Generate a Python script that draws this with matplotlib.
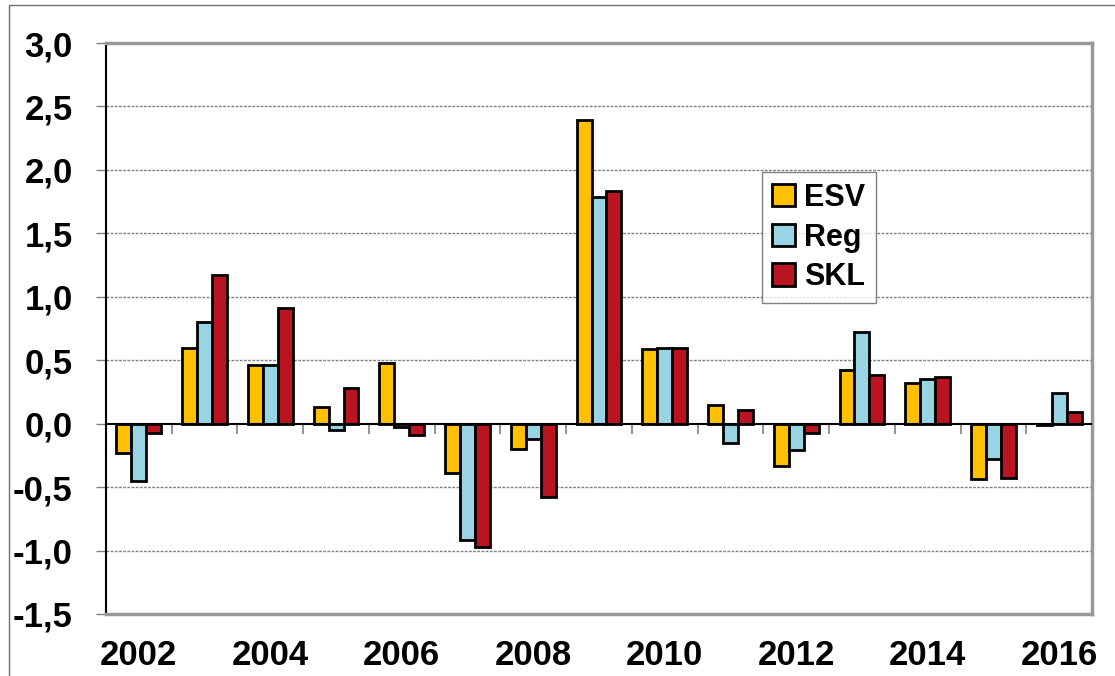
import numpy as np
import matplotlib.pyplot as plt
from matplotlib.patches import Rectangle

plt.rcParams['font.family'] = ['Liberation Sans', 'DejaVu Sans']
plt.rcParams['font.weight'] = 'bold'

# Data
years = list(range(2002, 2017))
esv = [-0.23, 0.60, 0.46, 0.13, 0.48, -0.39, -0.20, 2.39, 0.59, 0.15, -0.33, 0.42, 0.32, -0.44, -0.01]
reg = [-0.45, 0.80, 0.46, -0.05, -0.03, -0.92, -0.12, 1.79, 0.60, -0.15, -0.21, 0.72, 0.35, -0.28, 0.24]
skl = [-0.07, 1.17, 0.91, 0.28, -0.09, -0.97, -0.58, 1.83, 0.60, 0.11, -0.07, 0.38, 0.37, -0.43, 0.09]
y_ticks = [-1.5, -1.0, -0.5, 0.0, 0.5, 1.0, 1.5, 2.0, 2.5, 3.0]

colors = {'ESV': '#FFC000', 'Reg': '#99D4E4', 'SKL': '#BA1420'}

fig = plt.figure(figsize=(11.15, 6.76), dpi=100)
ax = fig.add_axes([106 / 1115, 62 / 676, 986 / 1115, 571 / 676])

# outer chart border
fig.patches.append(Rectangle((9 / 1115, -0.1), 1.2, 1 - 5 / 676 + 0.1,
                             transform=fig.transFigure, fill=False,
                             edgecolor='#707070', linewidth=1))

x = np.arange(len(years))
w = 0.227
for off, vals, name in [(-w, esv, 'ESV'), (0, reg, 'Reg'), (w, skl, 'SKL')]:
    ax.bar(x + off, vals, width=w, color=colors[name], edgecolor='black',
           linewidth=2.0, label=name, zorder=3)

ax.set_xlim(-0.5, len(years) - 0.5)
ax.set_ylim(-1.5, 3.0)

# grid
for yv in y_ticks[1:-1]:
    if yv != 0:
        ax.axhline(yv, color='#808080', linestyle=(0, (2, 1)), linewidth=1, zorder=1)
ax.axhline(0, color='black', linewidth=1.5, zorder=4)

# category boundary ticks on the zero line
ax.vlines(x[:-1] + 0.5, -0.08, 0, color='#808080', linewidth=1.2, zorder=2)

ax.set_yticks(y_ticks)
ax.set_yticklabels([f'{v:.1f}'.replace('.', ',') for v in y_ticks], fontsize=25, fontweight='bold')
ax.tick_params(axis='y', length=7, width=1, color='#808080', pad=17)

ax.set_xticks(x[::2])
ax.set_xticklabels([str(y) for y in years[::2]], fontsize=25, fontweight='bold')
ax.tick_params(axis='x', length=0, pad=18)

for side in ['top', 'right', 'bottom']:
    ax.spines[side].set_color('#999999')
    ax.spines[side].set_linewidth(2.5)
ax.spines['left'].set_color('black')
ax.spines['left'].set_linewidth(1.5)

leg = ax.legend(loc='upper left', bbox_to_anchor=(0.665, 0.774),
                prop={'weight': 'bold', 'size': 22}, frameon=True, fancybox=False,
                edgecolor='#606060', handlelength=0.75, handleheight=0.75,
                handletextpad=0.3, labelspacing=0.32, borderpad=0.35,
                borderaxespad=0)
leg.get_frame().set_linewidth(1)

fig.savefig('out.png', dpi=100)
